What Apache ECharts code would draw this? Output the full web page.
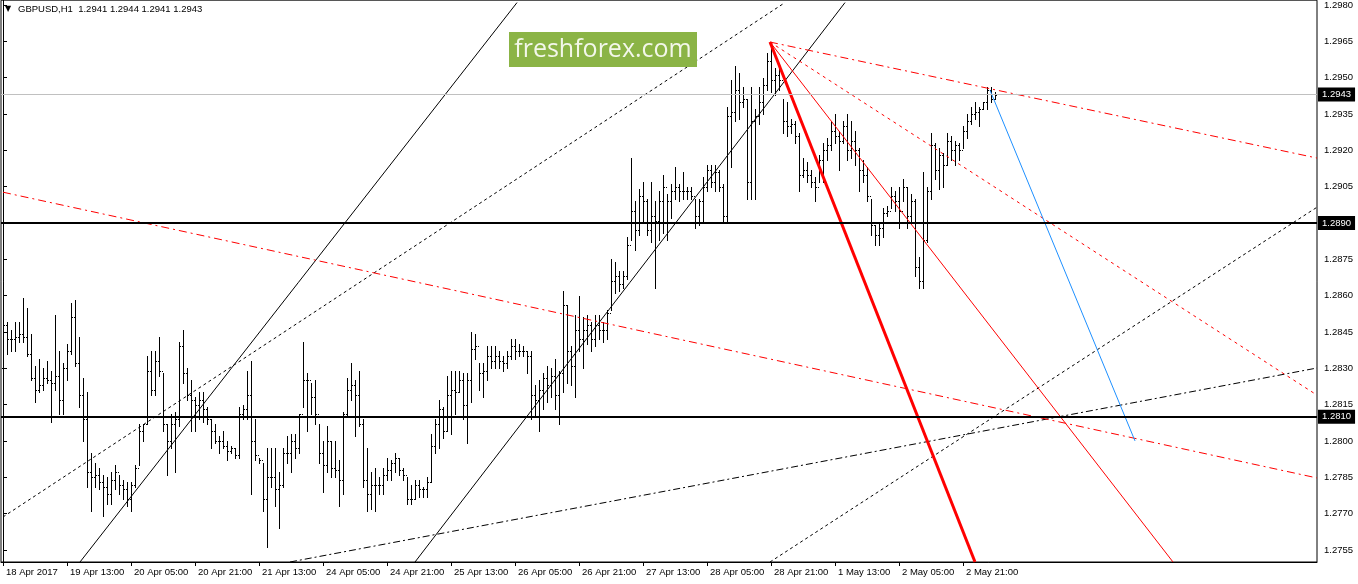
<!DOCTYPE html>
<html><head><meta charset="utf-8">
<script src="https://cdn.jsdelivr.net/npm/echarts@6/dist/echarts.min.js"></script>
<style>html,body{margin:0;padding:0;background:#fff}#c{width:1358px;height:584px}</style>
</head><body><div id="c"></div><script>
// ---- data (GBPUSD H1) ----
const xTickLabels = ["18 Apr 2017","19 Apr 13:00","20 Apr 05:00","20 Apr 21:00","21 Apr 13:00","24 Apr 05:00","24 Apr 21:00","25 Apr 13:00","26 Apr 05:00","26 Apr 21:00","27 Apr 13:00","28 Apr 05:00","28 Apr 21:00","1 May 13:00","2 May 05:00","2 May 21:00"];
const yTickValues = [1.2755,1.2770,1.2785,1.2800,1.2815,1.2830,1.2845,1.2860,1.2875,1.2890,1.2905,1.2920,1.2935,1.2950,1.2965,1.2980];
const slotCount = 329; // hourly slots visible across the chart width
const titleText = "GBPUSD,H1  1.2941 1.2944 1.2941 1.2943";

const barHigh = [
1.2849,1.2849,1.2846,1.2849,1.2849,1.2859,1.2855,1.2844,1.2831,1.2834,1.2830,1.2833,1.2829,1.2852,1.2837,1.2832,1.2840,1.2857,1.2858,1.2843,
1.2826,1.2820,1.2795,1.2791,1.2789,1.2786,1.2785,1.2787,1.2790,1.2786,1.2784,1.2783,1.2783,1.2790,1.2807,1.2807,1.2835,1.2837,1.2837,1.2843,
1.2828,1.2807,1.2811,1.2812,1.2841,1.2846,1.2830,1.2825,1.2818,1.2820,1.2820,1.2814,1.2809,1.2807,1.2802,1.2804,1.2800,1.2798,1.2797,1.2814,
1.2815,1.2829,1.2833,1.2809,1.2793,1.2791,1.2797,1.2797,1.2797,1.2787,1.2797,1.2802,1.2803,1.2803,1.2811,1.2841,1.2828,1.2824,1.2825,1.2807,
1.2800,1.2806,1.2800,1.2800,1.2792,1.2812,1.2826,1.2832,1.2825,1.2829,1.2809,1.2797,1.2787,1.2789,1.2785,1.2789,1.2793,1.2792,1.2795,1.2793,
1.2789,1.2785,1.2782,1.2784,1.2784,1.2781,1.2785,1.2803,1.2809,1.2817,1.2814,1.2827,1.2829,1.2829,1.2829,1.2828,1.2828,1.2845,1.2844,1.2832,
1.2832,1.2839,1.2839,1.2839,1.2837,1.2835,1.2837,1.2842,1.2842,1.2840,1.2839,1.2837,1.2837,1.2823,1.2825,1.2828,1.2831,1.2830,1.2834,1.2829,
1.2862,1.2856,1.2839,1.2852,1.2860,1.2851,1.2852,1.2849,1.2852,1.2852,1.2849,1.2854,1.2875,1.2874,1.2870,1.2870,1.2884,1.2917,1.2899,1.2904,
1.2907,1.2900,1.2907,1.2899,1.2903,1.2910,1.2902,1.2906,1.2913,1.2906,1.2911,1.2905,1.2905,1.2900,1.2900,1.2909,1.2914,1.2914,1.2914,1.2912,
1.2906,1.2938,1.2949,1.2955,1.2952,1.2946,1.2941,1.2946,1.2937,1.2946,1.2950,1.2960,1.2964,1.2954,1.2954,1.2941,1.2940,1.2933,1.2932,1.2927,
1.2917,1.2915,1.2912,1.2909,1.2918,1.2923,1.2925,1.2932,1.2935,1.2928,1.2932,1.2935,1.2932,1.2928,1.2921,1.2916,1.2913,1.2900,1.2889,1.2890,
1.2896,1.2897,1.2905,1.2903,1.2905,1.2908,1.2905,1.2902,1.2900,1.2876,1.2911,1.2905,1.2927,1.2923,1.2921,1.2919,1.2927,1.2926,1.2924,1.2923,
1.2930,1.2935,1.2938,1.2940,1.2938,1.2940,1.2946,1.2946,1.2944];

const barLow = [
1.2821,1.2836,1.2837,1.2837,1.2841,1.2841,1.2835,1.2825,1.2816,1.2820,1.2821,1.2824,1.2808,1.2821,1.2811,1.2811,1.2825,1.2836,1.2831,1.2814,
1.2800,1.2781,1.2771,1.2781,1.2780,1.2769,1.2774,1.2774,1.2780,1.2778,1.2776,1.2773,1.2771,1.2781,1.2790,1.2800,1.2807,1.2819,1.2819,1.2827,
1.2804,1.2786,1.2797,1.2787,1.2806,1.2824,1.2817,1.2804,1.2804,1.2809,1.2808,1.2807,1.2797,1.2799,1.2795,1.2797,1.2792,1.2795,1.2793,1.2793,
1.2809,1.2809,1.2778,1.2792,1.2791,1.2771,1.2756,1.2781,1.2773,1.2764,1.2781,1.2791,1.2787,1.2793,1.2795,1.2814,1.2804,1.2811,1.2807,1.2791,
1.2779,1.2787,1.2785,1.2785,1.2773,1.2778,1.2810,1.2817,1.2802,1.2806,1.2781,1.2771,1.2772,1.2771,1.2778,1.2778,1.2784,1.2784,1.2787,1.2786,
1.2784,1.2774,1.2774,1.2776,1.2777,1.2777,1.2777,1.2783,1.2795,1.2797,1.2801,1.2804,1.2803,1.2811,1.2820,1.2809,1.2799,1.2816,1.2834,1.2821,
1.2818,1.2825,1.2830,1.2830,1.2830,1.2829,1.2830,1.2834,1.2834,1.2835,1.2835,1.2828,1.2809,1.2810,1.2804,1.2813,1.2816,1.2818,1.2813,1.2807,
1.2820,1.2824,1.2823,1.2818,1.2837,1.2830,1.2840,1.2837,1.2839,1.2842,1.2841,1.2842,1.2854,1.2861,1.2862,1.2863,1.2867,1.2883,1.2879,1.2885,
1.2890,1.2885,1.2882,1.2863,1.2883,1.2886,1.2883,1.2892,1.2900,1.2899,1.2900,1.2900,1.2900,1.2888,1.2889,1.2891,1.2903,1.2905,1.2903,1.2903,
1.2890,1.2890,1.2913,1.2932,1.2933,1.2938,1.2900,1.2900,1.2900,1.2931,1.2935,1.2945,1.2944,1.2943,1.2945,1.2927,1.2926,1.2927,1.2923,1.2903,
1.2909,1.2907,1.2905,1.2899,1.2907,1.2907,1.2916,1.2920,1.2923,1.2912,1.2923,1.2916,1.2917,1.2914,1.2903,1.2907,1.2899,1.2885,1.2881,1.2881,
1.2884,1.2893,1.2896,1.2895,1.2888,1.2899,1.2888,1.2891,1.2868,1.2863,1.2863,1.2882,1.2900,1.2908,1.2904,1.2905,1.2914,1.2916,1.2914,1.2916,
1.2921,1.2925,1.2931,1.2933,1.2930,1.2937,1.2937,1.2940,1.2941];

const barClose = [
1.2848,1.2842,1.2842,1.2843,1.2844,1.2843,1.2836,1.2826,1.2821,1.2823,1.2826,1.2825,1.2824,1.2827,1.2817,1.2830,1.2837,1.2851,1.2832,1.2819,
1.2809,1.2787,1.2785,1.2786,1.2783,1.2781,1.2778,1.2784,1.2787,1.2782,1.2780,1.2776,1.2782,1.2789,1.2804,1.2807,1.2829,1.2821,1.2833,1.2829,
1.2807,1.2800,1.2807,1.2809,1.2839,1.2828,1.2819,1.2817,1.2815,1.2817,1.2813,1.2809,1.2804,1.2800,1.2800,1.2798,1.2796,1.2797,1.2794,1.2811,
1.2813,1.2819,1.2800,1.2794,1.2792,1.2776,1.2785,1.2785,1.2780,1.2782,1.2795,1.2795,1.2800,1.2797,1.2811,1.2825,1.2825,1.2818,1.2811,1.2795,
1.2790,1.2800,1.2789,1.2788,1.2784,1.2811,1.2821,1.2823,1.2819,1.2807,1.2784,1.2778,1.2782,1.2782,1.2782,1.2786,1.2788,1.2791,1.2793,1.2788,
1.2786,1.2776,1.2776,1.2782,1.2780,1.2780,1.2783,1.2798,1.2807,1.2813,1.2804,1.2819,1.2821,1.2820,1.2825,1.2815,1.2825,1.2838,1.2839,1.2828,
1.2829,1.2835,1.2833,1.2835,1.2833,1.2832,1.2835,1.2839,1.2837,1.2837,1.2837,1.2835,1.2819,1.2817,1.2821,1.2826,1.2823,1.2827,1.2819,1.2828,
1.2856,1.2837,1.2831,1.2846,1.2842,1.2846,1.2848,1.2842,1.2848,1.2846,1.2846,1.2853,1.2866,1.2868,1.2865,1.2868,1.2881,1.2895,1.2887,1.2901,
1.2899,1.2887,1.2893,1.2891,1.2899,1.2905,1.2899,1.2903,1.2905,1.2903,1.2903,1.2903,1.2901,1.2893,1.2899,1.2905,1.2912,1.2907,1.2911,1.2905,
1.2893,1.2934,1.2936,1.2945,1.2940,1.2941,1.2907,1.2932,1.2934,1.2940,1.2947,1.2957,1.2949,1.2951,1.2949,1.2932,1.2930,1.2931,1.2926,1.2910,
1.2912,1.2910,1.2907,1.2905,1.2916,1.2920,1.2922,1.2928,1.2926,1.2924,1.2930,1.2920,1.2924,1.2920,1.2912,1.2910,1.2901,1.2889,1.2885,1.2888,
1.2894,1.2895,1.2901,1.2899,1.2895,1.2905,1.2893,1.2899,1.2872,1.2866,1.2883,1.2903,1.2922,1.2912,1.2918,1.2914,1.2924,1.2920,1.2922,1.2920,
1.2928,1.2932,1.2935,1.2936,1.2937,1.2940,1.2945,1.2941,1.2943];

const barOpen = [
1.2830,1.2848,1.2842,1.2842,1.2843,1.2844,1.2843,1.2836,1.2826,1.2821,1.2823,1.2826,1.2825,1.2824,1.2827,1.2817,1.2830,1.2837,1.2851,1.2832,
1.2819,1.2809,1.2787,1.2785,1.2786,1.2783,1.2781,1.2778,1.2784,1.2787,1.2782,1.2780,1.2776,1.2782,1.2789,1.2804,1.2807,1.2829,1.2821,1.2833,
1.2829,1.2807,1.2800,1.2807,1.2809,1.2839,1.2828,1.2819,1.2817,1.2815,1.2817,1.2813,1.2809,1.2804,1.2800,1.2800,1.2798,1.2796,1.2797,1.2794,
1.2811,1.2813,1.2819,1.2800,1.2794,1.2792,1.2776,1.2785,1.2785,1.2780,1.2782,1.2795,1.2795,1.2800,1.2797,1.2811,1.2825,1.2825,1.2818,1.2811,
1.2795,1.2790,1.2800,1.2789,1.2788,1.2784,1.2811,1.2821,1.2823,1.2819,1.2807,1.2784,1.2778,1.2782,1.2782,1.2782,1.2786,1.2788,1.2791,1.2793,
1.2788,1.2786,1.2776,1.2776,1.2782,1.2780,1.2780,1.2783,1.2798,1.2807,1.2813,1.2804,1.2819,1.2821,1.2820,1.2825,1.2815,1.2825,1.2838,1.2839,
1.2828,1.2829,1.2835,1.2833,1.2835,1.2833,1.2832,1.2835,1.2839,1.2837,1.2837,1.2837,1.2835,1.2819,1.2817,1.2821,1.2826,1.2823,1.2827,1.2819,
1.2828,1.2856,1.2837,1.2831,1.2846,1.2842,1.2846,1.2848,1.2842,1.2848,1.2846,1.2846,1.2853,1.2866,1.2868,1.2865,1.2868,1.2881,1.2895,1.2887,
1.2901,1.2899,1.2887,1.2893,1.2891,1.2899,1.2905,1.2899,1.2903,1.2905,1.2903,1.2903,1.2903,1.2901,1.2893,1.2899,1.2905,1.2912,1.2907,1.2911,
1.2905,1.2893,1.2934,1.2936,1.2945,1.2940,1.2941,1.2907,1.2932,1.2934,1.2940,1.2947,1.2957,1.2949,1.2951,1.2949,1.2932,1.2930,1.2931,1.2926,
1.2910,1.2912,1.2910,1.2907,1.2905,1.2916,1.2920,1.2922,1.2928,1.2926,1.2924,1.2930,1.2920,1.2924,1.2920,1.2912,1.2910,1.2901,1.2889,1.2885,
1.2888,1.2894,1.2895,1.2901,1.2899,1.2895,1.2905,1.2893,1.2899,1.2872,1.2866,1.2883,1.2903,1.2922,1.2912,1.2918,1.2914,1.2924,1.2920,1.2922,
1.2920,1.2928,1.2932,1.2935,1.2936,1.2937,1.2940,1.2945,1.2941];

// horizontal levels
const supportLevel = 1.2810;
const resistanceLevel = 1.2890;
const bidPrice = 1.2943;

// trend lines: [[slotIndex, price], [slotIndex, price]]
const channelLineA = [[19.25, 1.2750], [128.5, 1.2981]];
const channelLineB = [[103.0, 1.2750], [210.5, 1.2981]];
const dottedLineC = [[0, 1.27686], [195.5, 1.2981]];
const dottedLineD = [[191.75, 1.2750], [328.5, 1.28965]];
const dashDotLineE = [[71.75, 1.2750], [328.5, 1.28301]];
const redDashDotF = [[0, 1.29027], [328.5, 1.27847]];
const redDashDotG = [[191.75, 1.29647], [328.5, 1.29168]];
const redDottedH = [[191.75, 1.29647], [328.5, 1.28189]];
const redThinI = [[191.75, 1.29647], [292.5, 1.2750]];
const redThickJ = [[191.75, 1.29647], [243.0, 1.2750]];
const blueLineK = [[246.75, 1.29448], [283.0, 1.28000]];

// ---- chart ----
const FONT = 'Liberation Sans';
const chart = echarts.init(document.getElementById('c'), null, {renderer: 'canvas'});
const slots = Array.from({length: slotCount}, (_, i) => String(i));
const labelShown = (idx) => idx % 16 === 0 && idx / 16 < xTickLabels.length;
const barRows = barClose.map((c, i) => [i, barOpen[i], c, barLow[i], barHigh[i]]);

function renderBar(params, api) {
  const i = api.value(0);
  const pH = api.coord([i, api.value(4)]);
  const pL = api.coord([i, api.value(3)]);
  const pO = api.coord([i, api.value(1)]);
  const pC = api.coord([i, api.value(2)]);
  const x = Math.round(pH[0]);
  const yh = Math.round(pH[1]), yl = Math.round(pL[1]);
  return {
    type: 'group',
    children: [
      {type: 'rect', shape: {x: x, y: yh, width: 1, height: Math.max(1, yl - yh + 1)}, style: {fill: '#000'}},
      {type: 'rect', shape: {x: x - 1, y: Math.round(pO[1]), width: 1, height: 1}, style: {fill: '#000'}},
      {type: 'rect', shape: {x: x + 1, y: Math.round(pC[1]), width: 1, height: 1}, style: {fill: '#000'}}
    ]
  };
}

function trend(data, color, width, type) {
  return {
    type: 'line', xAxisIndex: 1, yAxisIndex: 0, data: data, symbol: 'none',
    silent: true, animation: false, clip: true, z: 3,
    lineStyle: {color: color, width: width, type: type}
  };
}

function priceBox(v, color, width) {
  return {
    yAxis: v,
    lineStyle: {color: color, width: width, type: 'solid'},
    label: {
      show: true, position: 'end', distance: 1, formatter: v.toFixed(4),
      color: '#fff', backgroundColor: '#000', padding: [2, 4, 2, 4],
      fontFamily: FONT, fontSize: 9.5
    }
  };
}

const option = {
  animation: false,
  backgroundColor: '#fff',
  grid: {left: 1, top: 0, width: 1316, height: 562, show: true, borderColor: '#000', borderWidth: 1, backgroundColor: 'transparent'},
  xAxis: [
    {
      type: 'category', data: slots, boundaryGap: true,
      axisLine: {show: true, lineStyle: {color: '#000', width: 1}},
      axisTick: {show: true, alignWithLabel: true, interval: labelShown, length: 4, lineStyle: {color: '#000'}},
      axisLabel: {
        show: true, interval: labelShown, align: 'left', margin: 5, padding: [0, 0, 0, 3],
        color: '#000', fontFamily: FONT, fontSize: 9.5,
        formatter: (v, idx) => xTickLabels[idx / 16] || ''
      },
      splitLine: {show: false}
    },
    {type: 'value', min: -0.5, max: 328.5, show: false}
  ],
  yAxis: {
    type: 'value', position: 'right', min: 1.2750, max: 1.2982, scale: true,
    axisLine: {show: true, lineStyle: {color: '#000', width: 1}},
    axisTick: {show: true, length: 4, customValues: yTickValues, lineStyle: {color: '#000'}},
    axisLabel: {show: true, customValues: yTickValues, margin: 7, color: '#000', fontFamily: FONT, fontSize: 9.5,
      formatter: (v) => v.toFixed(4)},
    splitLine: {show: false}
  },
  series: [
    {
      type: 'custom', xAxisIndex: 0, yAxisIndex: 0, data: barRows,
      renderItem: renderBar, encode: {x: 0, y: [1, 2, 3, 4]}, silent: true, z: 2,
      markLine: {
        silent: true, symbol: ['none', 'none'], animation: false, precision: 4,
        data: [
          priceBox(bidPrice, '#c0c0c0', 1),
          priceBox(resistanceLevel, '#000', 2),
          priceBox(supportLevel, '#000', 2)
        ]
      }
    },
    trend(channelLineA, '#000', 1, 'solid'),
    trend(channelLineB, '#000', 1, 'solid'),
    trend(dottedLineC, '#000', 1, [3, 3]),
    trend(dottedLineD, '#000', 1, [3, 3]),
    trend(dashDotLineE, '#000', 1, [7, 3, 2, 3]),
    trend(redDashDotF, '#ff0000', 1, [8, 4, 2, 4]),
    trend(redDashDotG, '#ff0000', 1, [8, 4, 2, 4]),
    trend(redDottedH, '#ff0000', 1, [3, 4]),
    trend(redThinI, '#ff0000', 1, 'solid'),
    trend(redThickJ, '#ff0000', 3, 'solid'),
    trend(blueLineK, '#1e90ff', 1, 'solid')
  ],
  graphic: [
    {type: 'text', left: 5, top: 5, z: 100, style: {text: '\u25BC', fontSize: 8, fill: '#000', fontFamily: 'DejaVu Sans'}},
    {type: 'text', left: 18, top: 4, z: 100, style: {text: titleText, fontSize: 9.5, fill: '#000', fontFamily: FONT}},
    {type: 'rect', left: 509, top: 32, z: 100, shape: {width: 188, height: 35}, style: {fill: '#8bb446'}},
    {type: 'text', z: 101, style: {x: 603, y: 50, text: 'freshforex.com', fontSize: 25, fill: '#f3f7ea', fontFamily: 'Open Sans', align: 'center', verticalAlign: 'middle'}}
  ]
};
chart.setOption(option);
</script></body></html>
